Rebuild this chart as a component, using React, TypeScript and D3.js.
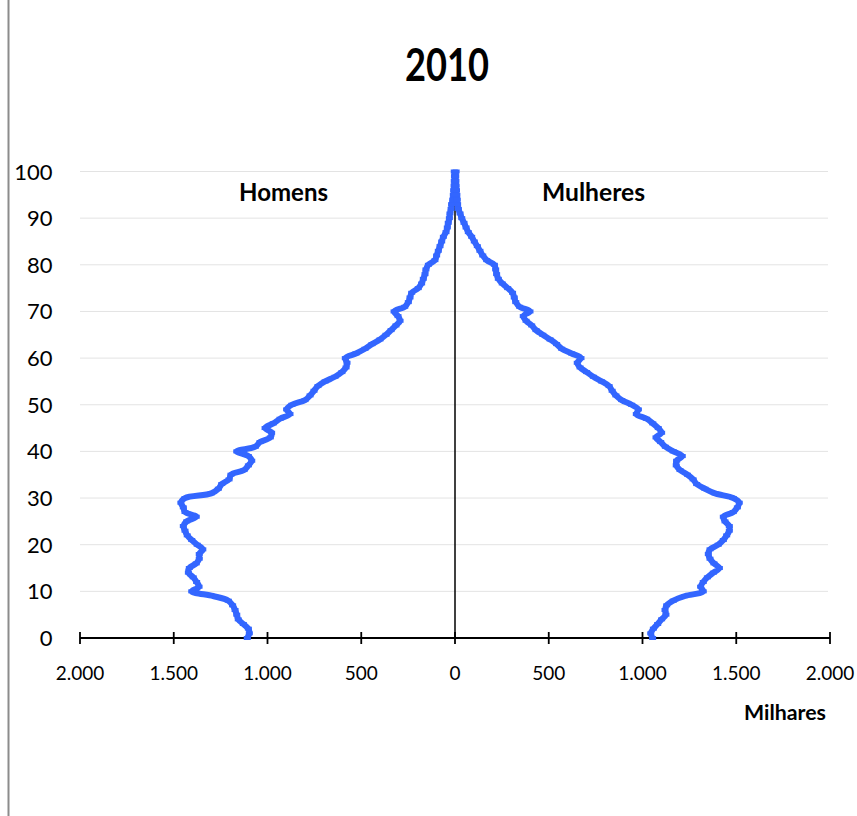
import React from "react";
import * as d3 from "d3";

const ages: number[] = d3.range(0, 101);

const homens: number[] = [
  1108, 1097, 1102, 1129, 1156, 1164, 1173, 1186, 1209, 1290,
  1404, 1365, 1378, 1396, 1422, 1417, 1380, 1364, 1364, 1345,
  1375, 1404, 1428, 1440, 1449, 1431, 1380, 1440, 1449, 1462,
  1440, 1300, 1262, 1244, 1205, 1195, 1125, 1102, 1084, 1102,
  1164, 1065, 1040, 985, 978, 1013, 969, 933, 880, 898,
  870, 800, 773, 752, 731, 693, 640, 603, 581, 576,
  585, 528, 480, 443, 400, 368, 341, 315, 293, 304,
  325, 268, 249, 240, 231, 196, 178, 169, 160, 155,
  142, 107, 98, 89, 80, 71, 62, 48, 41, 36,
  30, 27, 21, 18, 12, 9, 7, 5, 4, 3,
  4,
];

const mulheres: number[] = [
  1054, 1044, 1058, 1081, 1102, 1125, 1120, 1129, 1164, 1227,
  1324, 1310, 1324, 1346, 1378, 1410, 1381, 1360, 1351, 1360,
  1404, 1431, 1449, 1463, 1463, 1440, 1431, 1484, 1506, 1516,
  1484, 1387, 1333, 1289, 1270, 1240, 1200, 1180, 1182, 1212,
  1164, 1122, 1097, 1072, 1102, 1084, 1055, 1022, 967, 978,
  942, 889, 858, 838, 822, 782, 738, 702, 667, 652,
  672, 622, 569, 542, 507, 468, 432, 409, 379, 364,
  400, 345, 324, 316, 307, 281, 252, 231, 222, 217,
  210, 169, 148, 133, 119, 103, 89, 71, 59, 48,
  36, 27, 18, 14, 12, 10, 8, 6, 5, 4,
  6,
];

const xTicks: number[] = [-2000, -1500, -1000, -500, 0, 500, 1000, 1500, 2000];
const yTicks: number[] = [0, 10, 20, 30, 40, 50, 60, 70, 80, 90, 100];
const title = "2010";
const labelLeft = "Homens";
const labelRight = "Mulheres";
const xUnit = "Milhares";

const locale = d3.formatLocale({ decimal: ",", thousands: ".", grouping: [3], currency: ["R$", ""] });
const fmt = locale.format(",d");

export default function App() {
  const W = 857;
  const H = 816;
  const x = d3.scaleLinear().domain([-2000, 2000]).range([80, 830]);
  const y = d3.scaleLinear().domain([0, 100]).range([638, 171.5]);
  const blue = "#3366ff";
  const font = "Lato, 'Open Sans', sans-serif";

  const line = d3
    .line<[number, number]>()
    .x((d) => x(d[0]))
    .y((d) => y(d[1]))
    .curve(d3.curveCatmullRom.alpha(0.5));

  const menPts: [number, number][] = ages.map((a, i) => [-homens[i], a]);
  const womenPts: [number, number][] = ages.map((a, i) => [mulheres[i], a]);

  return (
    <svg
      width={W}
      height={H}
      style={{ position: "absolute", left: 0, top: 0, background: "#fff" }}
    >
      <rect x={0} y={0} width={W} height={H} fill="#fff" />
      <line x1={8.5} x2={8.5} y1={0} y2={H} stroke="#8c8c8c" strokeWidth={2} />

      {yTicks.filter((t) => t > 0).map((t) => (
        <line key={"g" + t} x1={80} x2={828} y1={y(t)} y2={y(t)} stroke="#e3e3e3" strokeWidth={1} />
      ))}

      {yTicks.map((t) => (
        <text
          key={"yl" + t}
          x={52.5}
          y={y(t) + 8}
          textAnchor="end"
          fontFamily={font}
          fontSize={22}
          fill="#000"
        >
          {t}
        </text>
      ))}

      <line x1={x(0)} x2={x(0)} y1={y(100)} y2={y(0)} stroke="#000" strokeWidth={1.5} />

      <line x1={x(-2000)} x2={x(2000)} y1={y(0)} y2={y(0)} stroke="#000" strokeWidth={2} />
      {xTicks.map((t) => (
        <line key={"xt" + t} x1={x(t)} x2={x(t)} y1={y(0) - 6} y2={y(0) + 6} stroke="#000" strokeWidth={1.8} />
      ))}
      {xTicks.map((t) => (
        <text
          key={"xl" + t}
          x={x(t)}
          y={680}
          textAnchor="middle"
          fontFamily={font}
          fontSize={19}
          fill="#000"
        >
          {fmt(Math.abs(t))}
        </text>
      ))}

      <path d={line(menPts) || ""} fill="none" stroke={blue} strokeWidth={6} strokeLinejoin="round" />
      <path d={line(womenPts) || ""} fill="none" stroke={blue} strokeWidth={6} strokeLinejoin="round" />
      {menPts.map((p, i) => (
        <rect key={"mm" + i} x={x(p[0]) - 3.5} y={y(p[1]) - 2} width={7} height={4} fill={blue} />
      ))}
      {womenPts.map((p, i) => (
        <rect key={"wm" + i} x={x(p[0]) - 3.5} y={y(p[1]) - 2} width={7} height={4} fill={blue} />
      ))}

      <text x={447} y={81} textAnchor="middle" fontFamily={font} fontWeight="bold" fontSize={46} textLength={84} lengthAdjust="spacingAndGlyphs" fill="#000">
        {title}
      </text>
      <text x={239} y={201} fontFamily={font} fontWeight="bold" fontSize={25} textLength={89} lengthAdjust="spacingAndGlyphs" fill="#000">
        {labelLeft}
      </text>
      <text x={542} y={201} fontFamily={font} fontWeight="bold" fontSize={25} textLength={103} lengthAdjust="spacingAndGlyphs" fill="#000">
        {labelRight}
      </text>
      <text x={744} y={720} fontFamily={font} fontWeight="bold" fontSize={21} textLength={82} lengthAdjust="spacingAndGlyphs" fill="#000">
        {xUnit}
      </text>
    </svg>
  );
}
